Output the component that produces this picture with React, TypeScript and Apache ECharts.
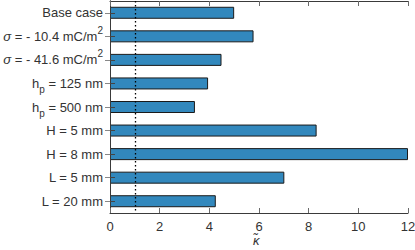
import React, { useEffect, useRef } from "react";
import * as echarts from "echarts";

const categories = [
  "Base case",
  "{it|σ} = - 10.4 mC/m{sup|2}",
  "{it|σ} = - 41.6 mC/m{sup|2}",
  "h{sub|p} = 125 nm",
  "h{sub|p} = 500 nm",
  "H = 5 mm",
  "H = 8 mm",
  "L = 5 mm",
  "L = 20 mm",
];
const values = [5.0, 5.78, 4.49, 3.95, 3.42, 8.32, 12.0, 7.02, 4.26];
const xTicks = [0, 2, 4, 6, 8, 10, 12];
const referenceLine = 1;
const xName = "κ̃";

export default function App() {
  const ref = useRef<HTMLDivElement>(null);
  useEffect(() => {
    if (!ref.current) return;
    const chart = echarts.init(ref.current, undefined, { renderer: "svg" });
    const font = "'Liberation Sans', Arial, Helvetica, sans-serif";
    const axisColor = "#3a3a3a";
    const txt = "#333";
    chart.setOption({
      animation: false,
      textStyle: { fontFamily: font },
      grid: { left: 110, right: 7, top: 1, bottom: 37, containLabel: false, outerBoundsMode: "none" },
      graphic: [
        {
          type: "text",
          left: 253,
          top: 234,
          silent: true,
          style: {
            text: xName,
            fill: txt,
            font: "italic 13px 'Liberation Sans', Arial, sans-serif",
          },
        },
      ],
      xAxis: [
        {
          type: "value",
          min: xTicks[0],
          max: xTicks[xTicks.length - 1],
          interval: 2,
          position: "bottom",
          z: 3,
          axisLine: { show: true, lineStyle: { color: axisColor, width: 1 } },
          axisTick: { show: true, inside: true, length: 5, lineStyle: { color: "#6a6a6a" } },
          axisLabel: { color: txt, fontSize: 13, margin: 7, fontFamily: font },
          splitLine: { show: false },
        },
        {
          type: "value",
          min: xTicks[0],
          max: xTicks[xTicks.length - 1],
          interval: 2,
          position: "top",
          z: 3,
          axisLine: { show: true, lineStyle: { color: axisColor, width: 1 } },
          axisTick: { show: true, inside: true, length: 5, lineStyle: { color: "#6a6a6a" } },
          axisLabel: { show: false },
          splitLine: { show: false },
        },
      ],
      yAxis: [
        {
          type: "category",
          data: categories,
          inverse: true,
          position: "left",
          z: 3,
          axisLine: { show: true, lineStyle: { color: axisColor, width: 1 } },
          axisTick: { show: true, inside: true, length: 5, alignWithLabel: true, lineStyle: { color: "#444" } },
          axisLabel: {
            interval: 0,
            hideOverlap: false,
            color: txt,
            fontSize: 13,
            lineHeight: 22,
            margin: 7,
            fontFamily: font,
            rich: {
              it: { fontStyle: "italic", fontSize: 13, lineHeight: 22, color: txt, fontFamily: font },
              sub: { fontSize: 10, lineHeight: 10, verticalAlign: "bottom", color: txt, fontFamily: font },
              sup: { fontSize: 10, lineHeight: 10, verticalAlign: "top", color: txt, fontFamily: font },
            },
          },
          splitLine: { show: false },
        },
        {
          type: "category",
          data: categories,
          inverse: true,
          position: "right",
          z: 3,
          axisLine: { show: true, lineStyle: { color: axisColor, width: 1 } },
          axisTick: { show: true, inside: true, length: 5, alignWithLabel: true, lineStyle: { color: "#888" } },
          axisLabel: { show: false },
          splitLine: { show: false },
        },
      ],
      series: [
        {
          type: "bar",
          xAxisIndex: 0,
          yAxisIndex: 0,
          data: values,
          barWidth: 12,
          itemStyle: { color: "#3288bd", borderColor: "#1a1a1a", borderWidth: 1 },
          markLine: {
            silent: true,
            symbol: "none",
            label: { show: false },
            lineStyle: { type: [1.5, 2.5], color: "#000", width: 1.3 },
            data: [{ xAxis: referenceLine }],
          },
        },
      ],
    });
    return () => chart.dispose();
  }, []);
  return (
    <div
      ref={ref}
      style={{ position: "absolute", left: 0, top: 0, width: 415, height: 250, background: "#fff" }}
    />
  );
}
